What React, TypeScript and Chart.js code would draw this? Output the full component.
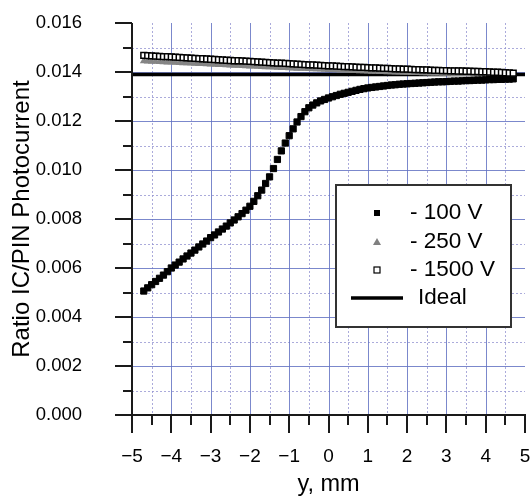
import { useEffect, useRef } from "react";
import { Chart, registerables } from "chart.js";

Chart.register(...registerables);

// Beam position across the detector, mm
const POSITIONS_MM = [
  -4.7, -4.6, -4.5, -4.4, -4.3, -4.2, -4.1, -4.0, -3.9, -3.8,
  -3.7, -3.6, -3.5, -3.4, -3.3, -3.2, -3.1, -3.0, -2.9, -2.8,
  -2.7, -2.6, -2.5, -2.4, -2.3, -2.2, -2.1, -2.0, -1.9, -1.8,
  -1.7, -1.6, -1.5, -1.4, -1.3, -1.2, -1.1, -1.0, -0.9, -0.8,
  -0.7, -0.6, -0.5, -0.4, -0.3, -0.2, -0.1, 0.0, 0.1, 0.2,
  0.3, 0.4, 0.5, 0.6, 0.7, 0.8, 0.9, 1.0, 1.1, 1.2,
  1.3, 1.4, 1.5, 1.6, 1.7, 1.8, 1.9, 2.0, 2.1, 2.2,
  2.3, 2.4, 2.5, 2.6, 2.7, 2.8, 2.9, 3.0, 3.1, 3.2,
  3.3, 3.4, 3.5, 3.6, 3.7, 3.8, 3.9, 4.0, 4.1, 4.2,
  4.3, 4.4, 4.5, 4.6, 4.7,
];

// IC / PIN photocurrent ratio at -100 V bias
const RATIO_100V = [
  0.00506, 0.00519, 0.00532, 0.00545, 0.00558, 0.00571, 0.00585, 0.00600, 0.00612, 0.00624,
  0.00637, 0.00649, 0.00661, 0.00673, 0.00686, 0.00698, 0.00710, 0.00724, 0.00735, 0.00747,
  0.00759, 0.00771, 0.00784, 0.00796, 0.00809, 0.00822, 0.00836, 0.00852, 0.00872, 0.00895,
  0.00918, 0.00945, 0.00972, 0.01006, 0.01043, 0.01078, 0.01110, 0.01140, 0.01168, 0.01196,
  0.01218, 0.01238, 0.01254, 0.01265, 0.01274, 0.01282, 0.01288, 0.01294, 0.01299, 0.01304,
  0.01309, 0.01313, 0.01317, 0.01321, 0.01325, 0.01329, 0.01332, 0.01335, 0.01337, 0.01339,
  0.01341, 0.01343, 0.01345, 0.01347, 0.01348, 0.01350, 0.01351, 0.01352, 0.01353, 0.01354,
  0.01355, 0.01356, 0.01357, 0.01358, 0.01359, 0.01360, 0.01360, 0.01361, 0.01362, 0.01363,
  0.01363, 0.01364, 0.01365, 0.01365, 0.01366, 0.01367, 0.01367, 0.01368, 0.01369, 0.01369,
  0.01370, 0.01370, 0.01371, 0.01371, 0.01372,
];

// Ratio at -250 V bias
const RATIO_250V = [
  0.01445, 0.01444, 0.01443, 0.01443, 0.01442, 0.01441, 0.01440, 0.01440, 0.01439, 0.01438,
  0.01437, 0.01437, 0.01436, 0.01435, 0.01434, 0.01434, 0.01433, 0.01432, 0.01431, 0.01430,
  0.01430, 0.01429, 0.01428, 0.01427, 0.01427, 0.01426, 0.01425, 0.01424, 0.01424, 0.01423,
  0.01422, 0.01421, 0.01421, 0.01420, 0.01419, 0.01418, 0.01418, 0.01417, 0.01416, 0.01415,
  0.01415, 0.01414, 0.01413, 0.01412, 0.01412, 0.01411, 0.01410, 0.01409, 0.01409, 0.01408,
  0.01407, 0.01407, 0.01406, 0.01405, 0.01405, 0.01404, 0.01404, 0.01403, 0.01402, 0.01402,
  0.01401, 0.01401, 0.01400, 0.01400, 0.01399, 0.01399, 0.01398, 0.01398, 0.01397, 0.01397,
  0.01397, 0.01396, 0.01396, 0.01395, 0.01395, 0.01395, 0.01394, 0.01394, 0.01394, 0.01393,
  0.01393, 0.01393, 0.01393, 0.01392, 0.01392, 0.01392, 0.01392, 0.01391, 0.01391, 0.01391,
  0.01391, 0.01391, 0.01390, 0.01390, 0.01390,
];

// Ratio at -1500 V bias
const RATIO_1500V = [
  0.01468, 0.01467, 0.01466, 0.01465, 0.01464, 0.01463, 0.01463, 0.01462, 0.01461, 0.01460,
  0.01459, 0.01458, 0.01457, 0.01456, 0.01455, 0.01454, 0.01453, 0.01452, 0.01451, 0.01450,
  0.01449, 0.01448, 0.01447, 0.01446, 0.01446, 0.01445, 0.01444, 0.01443, 0.01442, 0.01441,
  0.01440, 0.01439, 0.01438, 0.01437, 0.01436, 0.01436, 0.01435, 0.01434, 0.01433, 0.01432,
  0.01431, 0.01430, 0.01429, 0.01429, 0.01428, 0.01427, 0.01426, 0.01425, 0.01425, 0.01424,
  0.01423, 0.01422, 0.01422, 0.01421, 0.01420, 0.01419, 0.01419, 0.01418, 0.01417, 0.01417,
  0.01416, 0.01415, 0.01415, 0.01414, 0.01413, 0.01413, 0.01412, 0.01412, 0.01411, 0.01410,
  0.01410, 0.01409, 0.01409, 0.01408, 0.01407, 0.01407, 0.01406, 0.01406, 0.01405, 0.01405,
  0.01404, 0.01404, 0.01403, 0.01403, 0.01402, 0.01402, 0.01401, 0.01401, 0.01400, 0.01399,
  0.01399, 0.01398, 0.01397, 0.01396, 0.01395,
];

// Ideal (expected) ratio, drawn across the full axis span
const IDEAL_RATIO = 0.0139;
const IDEAL_SPAN_MM = [-5, 5];

const SERIES_LABELS = ["- 100 V", "- 250 V", "- 1500 V", "Ideal"];

const X_MIN = -5;
const X_MAX = 5;
const X_STEP = 1;
const Y_MIN = 0;
const Y_MAX = 0.016;
const Y_STEP = 0.002;

const FONT = "'Liberation Sans', Arial, sans-serif";

const toPoints = (ys: number[]) => POSITIONS_MM.map((x, i) => ({ x, y: ys[i] }));

// Grid, axis lines with major/minor ticks, and the boxed legend
const framePlugin = {
  id: "frame",
  beforeDatasetsDraw(chart: any) {
    const { ctx, chartArea: a, scales } = chart;
    const xs = scales.x;
    const ys = scales.y;
    const xt = xs.ticks.map((t: any) => t.value);
    const yt = ys.ticks.map((t: any) => t.value);
    ctx.save();
    // minor dotted grid
    ctx.strokeStyle = "rgba(150,150,210,0.8)";
    ctx.lineWidth = 1;
    ctx.setLineDash([2, 2]);
    for (let i = 0; i < xt.length - 1; i++) {
      const p = Math.round(xs.getPixelForValue((xt[i] + xt[i + 1]) / 2)) + 0.5;
      ctx.beginPath();
      ctx.moveTo(p, a.top);
      ctx.lineTo(p, a.bottom);
      ctx.stroke();
    }
    for (let i = 0; i < yt.length - 1; i++) {
      const p = Math.round(ys.getPixelForValue((yt[i] + yt[i + 1]) / 2)) + 0.5;
      ctx.beginPath();
      ctx.moveTo(a.left, p);
      ctx.lineTo(a.right, p);
      ctx.stroke();
    }
    // major solid grid
    ctx.setLineDash([]);
    ctx.strokeStyle = "rgba(100,115,195,0.85)";
    for (let i = 1; i < xt.length - 1; i++) {
      const p = Math.round(xs.getPixelForValue(xt[i])) + 0.5;
      ctx.beginPath();
      ctx.moveTo(p, a.top);
      ctx.lineTo(p, a.bottom);
      ctx.stroke();
    }
    for (let i = 1; i < yt.length - 1; i++) {
      const p = Math.round(ys.getPixelForValue(yt[i])) + 0.5;
      ctx.beginPath();
      ctx.moveTo(a.left, p);
      ctx.lineTo(a.right, p);
      ctx.stroke();
    }
    ctx.restore();
  },
  afterDatasetsDraw(chart: any) {
    const { ctx, chartArea: a, scales } = chart;
    const xs = scales.x;
    const ys = scales.y;
    const xt = xs.ticks.map((t: any) => t.value);
    const yt = ys.ticks.map((t: any) => t.value);
    ctx.save();
    ctx.strokeStyle = "#1a1a1a";
    ctx.lineWidth = 2;
    ctx.lineCap = "butt";
    // axis lines
    ctx.beginPath();
    ctx.moveTo(a.left, a.top);
    ctx.lineTo(a.left, a.bottom + 1);
    ctx.moveTo(a.left - 1, a.bottom);
    ctx.lineTo(a.right + 1, a.bottom);
    ctx.stroke();
    // x ticks
    ctx.beginPath();
    xt.forEach((v: number, i: number) => {
      const p = Math.round(xs.getPixelForValue(v));
      ctx.moveTo(p, a.bottom);
      ctx.lineTo(p, a.bottom + 18);
      if (i < xt.length - 1) {
        const m = Math.round(xs.getPixelForValue((v + xt[i + 1]) / 2));
        ctx.moveTo(m, a.bottom);
        ctx.lineTo(m, a.bottom + 10);
      }
    });
    // y ticks
    yt.forEach((v: number, i: number) => {
      const p = Math.round(ys.getPixelForValue(v));
      ctx.moveTo(a.left, p);
      ctx.lineTo(a.left - 17, p);
      if (i < yt.length - 1) {
        const m = Math.round(ys.getPixelForValue((v + yt[i + 1]) / 2));
        ctx.moveTo(a.left, m);
        ctx.lineTo(a.left - 9, m);
      }
    });
    ctx.stroke();

    // legend box
    const bx = Math.round(a.left + 204);
    const by = Math.round(a.top + 162);
    const bw = 175;
    const bh = 142;
    ctx.fillStyle = "#ffffff";
    ctx.fillRect(bx, by, bw, bh);
    ctx.strokeStyle = "#333333";
    ctx.lineWidth = 2;
    ctx.strokeRect(bx, by, bw, bh);

    const mx = bx + 41;
    const tx = bx + 74;
    const rows = [by + 28, by + 57, by + 85, by + 113];
    ctx.font = `22.5px ${FONT}`;
    ctx.textBaseline = "middle";
    ctx.textAlign = "left";

    // - 100 V : filled square
    ctx.fillStyle = "#000";
    ctx.fillRect(mx - 3, rows[0] - 3, 6, 6);
    ctx.fillText(SERIES_LABELS[0], tx, rows[0]);
    // - 250 V : grey triangle
    ctx.fillStyle = "#808080";
    ctx.beginPath();
    ctx.moveTo(mx, rows[1] - 4);
    ctx.lineTo(mx + 4, rows[1] + 3);
    ctx.lineTo(mx - 4, rows[1] + 3);
    ctx.closePath();
    ctx.fill();
    ctx.fillStyle = "#000";
    ctx.fillText(SERIES_LABELS[1], tx, rows[1]);
    // - 1500 V : open square
    ctx.lineWidth = 1.2;
    ctx.strokeStyle = "#000";
    ctx.fillStyle = "#fff";
    ctx.fillRect(mx - 3, rows[2] - 3, 6, 6);
    ctx.strokeRect(mx - 3, rows[2] - 3, 6, 6);
    ctx.fillStyle = "#000";
    ctx.fillText(SERIES_LABELS[2], tx, rows[2]);
    // Ideal : thick line
    ctx.lineWidth = 3.5;
    ctx.beginPath();
    ctx.moveTo(bx + 15, rows[3]);
    ctx.lineTo(bx + 67, rows[3]);
    ctx.stroke();
    ctx.fillText(SERIES_LABELS[3], bx + 82, rows[3]);
    ctx.restore();
  },
};

export default function App() {
  const canvasRef = useRef<HTMLCanvasElement | null>(null);

  useEffect(() => {
    const canvas = canvasRef.current;
    if (!canvas) return;
    const chart = new Chart(canvas, {
      type: "scatter",
      data: {
        datasets: [
          {
            label: SERIES_LABELS[3],
            data: IDEAL_SPAN_MM.map((x) => ({ x, y: IDEAL_RATIO })),
            showLine: true,
            borderColor: "#000",
            borderWidth: 3.5,
            pointRadius: 0,
            order: 4,
          },
          {
            label: SERIES_LABELS[1],
            data: toPoints(RATIO_250V),
            pointStyle: "triangle",
            pointRadius: 4.6,
            backgroundColor: "#858585",
            borderColor: "#858585",
            borderWidth: 0,
            order: 3,
          },
          {
            label: SERIES_LABELS[0],
            data: toPoints(RATIO_100V),
            pointStyle: "rect",
            pointRadius: 4.4,
            backgroundColor: "#000",
            borderColor: "#000",
            borderWidth: 1,
            order: 2,
          },
          {
            label: SERIES_LABELS[2],
            data: toPoints(RATIO_1500V),
            pointStyle: "rect",
            pointRadius: 4.1,
            backgroundColor: "#fff",
            borderColor: "#000",
            borderWidth: 1.5,
            order: 1,
          },
        ],
      },
      options: {
        animation: false,
        responsive: false,
        layout: { padding: { top: 23, right: 7, left: 0, bottom: 0 } },
        plugins: { legend: { display: false }, tooltip: { enabled: false } },
        scales: {
          x: {
            type: "linear",
            min: X_MIN,
            max: X_MAX,
            grid: { display: false, drawTicks: false },
            border: { display: false },
            ticks: {
              stepSize: X_STEP,
              padding: 30,
              color: "#000",
              font: { family: FONT, size: 19 },
              callback: (v: any) => (v < 0 ? "\u2212" + Math.abs(v) : String(v)),
            },
            title: {
              display: true,
              text: "y, mm",
              color: "#000",
              font: { family: FONT, size: 23.5, lineHeight: 1 },
              padding: { top: 0, bottom: 0 },
            },
            afterFit: (s: any) => {
              s.height = 81;
              s.paddingLeft = 0;
              s.paddingRight = 0;
            },
          },
          y: {
            type: "linear",
            min: Y_MIN,
            max: Y_MAX,
            grid: { display: false, drawTicks: false },
            border: { display: false },
            ticks: {
              stepSize: Y_STEP,
              padding: 50,
              color: "#000",
              font: { family: FONT, size: 18.5 },
              callback: (v: any) => Number(v).toFixed(3),
            },
            title: {
              display: true,
              text: "Ratio IC/PIN Photocurrent",
              color: "#000",
              font: { family: FONT, size: 24, lineHeight: 1 },
              padding: { top: 10, bottom: 0 },
            },
            afterFit: (s: any) => {
              s.width = 132;
              s.paddingTop = 0;
              s.paddingBottom = 0;
            },
          },
        },
      },
      plugins: [framePlugin],
    });
    return () => chart.destroy();
  }, []);

  return (
    <canvas
      ref={canvasRef}
      width={532}
      height={496}
      style={{ position: "absolute", left: 0, top: 0, display: "block" }}
    />
  );
}
